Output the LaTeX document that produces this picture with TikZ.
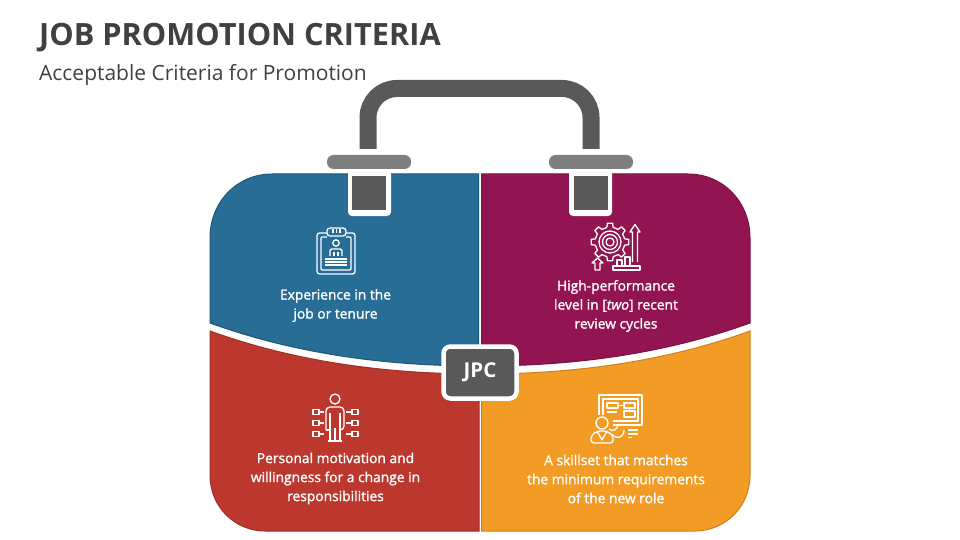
\documentclass[tikz,border=0pt]{standalone}
\usepackage{fontspec}
\setmainfont{Open Sans}
\newfontfamily\lblfont[FakeBold=1.4]{Open Sans}
\definecolor{cblue}{HTML}{286D95}\definecolor{cblueD}{HTML}{1C5878}
\definecolor{cmag}{HTML}{921450}\definecolor{cmagD}{HTML}{7A1043}
\definecolor{cred}{HTML}{BC382E}\definecolor{credD}{HTML}{9F2E26}
\definecolor{corg}{HTML}{F29C26}\definecolor{corgD}{HTML}{D0801A}
\definecolor{cdark}{HTML}{595959}\definecolor{cbar}{HTML}{7F7F7F}\definecolor{ctxt}{HTML}{404040}
\tikzset{
 panel/.style={line width=1pt},
 lbl/.style={text=white,align=center,font=\lblfont\fontsize{13.8}{19}\selectfont,inner sep=0pt},
 ico/.style={draw=white,line width=1.3pt,line join=round},
}
\begin{document}
\begin{tikzpicture}[x=1pt,y=-1pt]
\useasboundingbox (0,0) rectangle (960,540);
% handle
\draw[cdark,line width=17pt,rounded corners=29pt] (368,149) -- (368,88.5) -- (591,88.5) -- (591,149);
% panels
\path[panel,fill=cblue,draw=cblueD] (478.5,174) -- (272,174) .. controls (237,174) and (210,202) .. (210,238) -- (210,323) .. controls (290,352) and (380,366) .. (478.5,366) -- cycle;
\path[panel,fill=cmag,draw=cmagD] (481.5,174) -- (688,174) .. controls (723,174) and (750,202) .. (750,238) -- (750,323) .. controls (670,352) and (580,366) .. (481.5,366) -- cycle;
\path[panel,fill=cred,draw=credD] (479,374) .. controls (380,374) and (290,360) .. (210,331) -- (210,475) .. controls (210,507) and (235,531) .. (265,531) -- (479,531) -- cycle;
\path[panel,fill=corg,draw=corgD] (481.5,374) .. controls (580,374) and (670,360) .. (750,331) -- (750,475) .. controls (750,507) and (725,531) .. (695,531) -- (481.5,531) -- cycle;
% notches
\fill[white,rounded corners=4pt] (348,170) rectangle (391,216);
\fill[white,rounded corners=4pt] (569,170) rectangle (612,216);
\fill[white] (340,169) rectangle (400,172.5);
\fill[white] (560,169) rectangle (620,172.5);
\fill[cdark] (352,176) rectangle (386,210);
\fill[cdark] (574,176) rectangle (608,210);
\fill[cbar,rounded corners=6.5pt] (327,155) rectangle (411,169);
\fill[cbar,rounded corners=6.5pt] (549,155) rectangle (633,169);
% JPC
\node[fill=cdark,draw=white,line width=4.5pt,rounded corners=7pt,minimum width=73pt,minimum height=52pt,text=white,font=\bfseries\fontsize{20.5}{24}\selectfont] (jpc) at (480,372.5) {JPC};
% titles
\node[anchor=base west,inner sep=0pt,text=ctxt,font=\bfseries\fontsize{30.7}{36}\selectfont] (title) at (39,45.5) {JOB PROMOTION CRITERIA};
\node[anchor=base west,inner sep=0pt,text=ctxt,font=\fontsize{21}{24}\selectfont] (sub) at (39,81) {Acceptable Criteria for Promotion};
% labels
\node[lbl] (t1) at (335.5,305.5) {Experience in the\\job or tenure};
\node[lbl] (t2) at (616,306) {High-performance\\level in [\textit{two}] recent\\review cycles};
\node[lbl] (t3) at (335.5,478.5) {Personal motivation and\\willingness for a change in\\responsibilities};
\node[lbl] (t4) at (616,479) {A skillset that matches\\the minimum requirements\\of the new role};
% icon 1 clipboard
\draw[ico,rounded corners=2.5pt] (327,233) -- (317,233) -- (317,274) -- (355,274) -- (355,233) -- (346,233);
\draw[ico,rounded corners=1pt] (327,237) -- (321,237) -- (321,270) -- (351,270) -- (351,237) -- (346,237);
\draw[ico,rounded corners=3pt] (327,228) rectangle (346,236);
\draw[ico] (333,229) -- (333,233) (336.5,229) -- (336.5,233) (340,229) -- (340,233);
\draw[ico] (336,243) circle (3.2);
\draw[ico,rounded corners=2pt] (330,256) -- (330,249) -- (342,249) -- (342,256) ;
\draw[ico] (334,252) -- (334,256) (338,252) -- (338,256);
\draw[ico] (325,259) -- (347,259) (325,262) -- (347,262) (325,265) -- (347,265);
% icon 2 gear
\begin{scope}[shift={(610,242)}]
\foreach \a in {0,45,...,315}{
 \draw[ico] (\a-12:15) -- (\a-8:19) -- (\a+8:19) -- (\a+12:15) -- (\a+33:15);
}
\draw[ico] (0,0) circle (11);
\draw[ico] (0,0) circle (7.5);
\draw[ico] (0,0) circle (4);
\end{scope}
\draw[ico] (632.5,262) -- (632.5,232) -- (630,232) -- (635,224.5) -- (640,232) -- (637.5,232) -- (637.5,262) ;
\draw[ico] (613,266) -- (640,266) -- (640,270) -- (613,270) -- cycle;
\draw[ico] (617,266) -- (617,260) -- (622,260) -- (622,266);
\draw[ico] (625,266) -- (625,257) -- (630,257) -- (630,266);
\draw[ico] (595,270) -- (595,263) -- (592,263) -- (597.5,258) -- (603,263) -- (600,263) -- (600,270) -- cycle;
% icon 3 person
\draw[ico] (335,399) circle (5);
\draw[ico,rounded corners=4pt] (326,430) -- (326,407) -- (344,407) -- (344,430) -- (340,430);
\draw[ico] (326,430) -- (330,430) (330,413) -- (330,441) (340,413) -- (340,441) (335,428) -- (335,441) (328,441) -- (342,441);
\foreach \yy in {412,423,434}{
 \draw[ico] (313,\yy-2.5) rectangle (319,\yy+2.5);
 \draw[ico] (319,\yy) -- (324,\yy);
 \draw[ico] (352,\yy-2.5) rectangle (358,\yy+2.5);
 \draw[ico] (346,\yy) -- (352,\yy);
}
% icon 4 screen
\draw[ico] (599,395) rectangle (642,425);
\draw[ico] (603,399) rectangle (638,421);
\draw[ico] (607,403) rectangle (618,408);
\draw[ico] (624,403) rectangle (635,408);
\draw[ico] (624,411) rectangle (635,417);
\draw[ico] (618,405.5) -- (624,405.5) (629.5,408) -- (629.5,411);
\draw[ico] (607,412) -- (617,412);
\draw[ico] (607,416) -- (613,416);
\fill[corg] (592,415) rectangle (613,444);
\draw[ico] (602,423) circle (6);
\draw[ico,rounded corners=3pt] (591,443) -- (591,436) -- (597,431) -- (607,431) -- (613,436) -- (613,443) -- cycle;
\draw[ico] (597,431) -- (602,440) -- (607,431);
\draw[ico] (612,434) .. controls (616,440) and (624,438) .. (624,430);
\draw[ico] (609,429) .. controls (613,432) and (617,430) .. (618,425);
\draw[ico] (628,430) -- (638,430) (628,434) -- (638,434) (628,437.5) -- (632,437.5);
\end{tikzpicture}
\end{document}
